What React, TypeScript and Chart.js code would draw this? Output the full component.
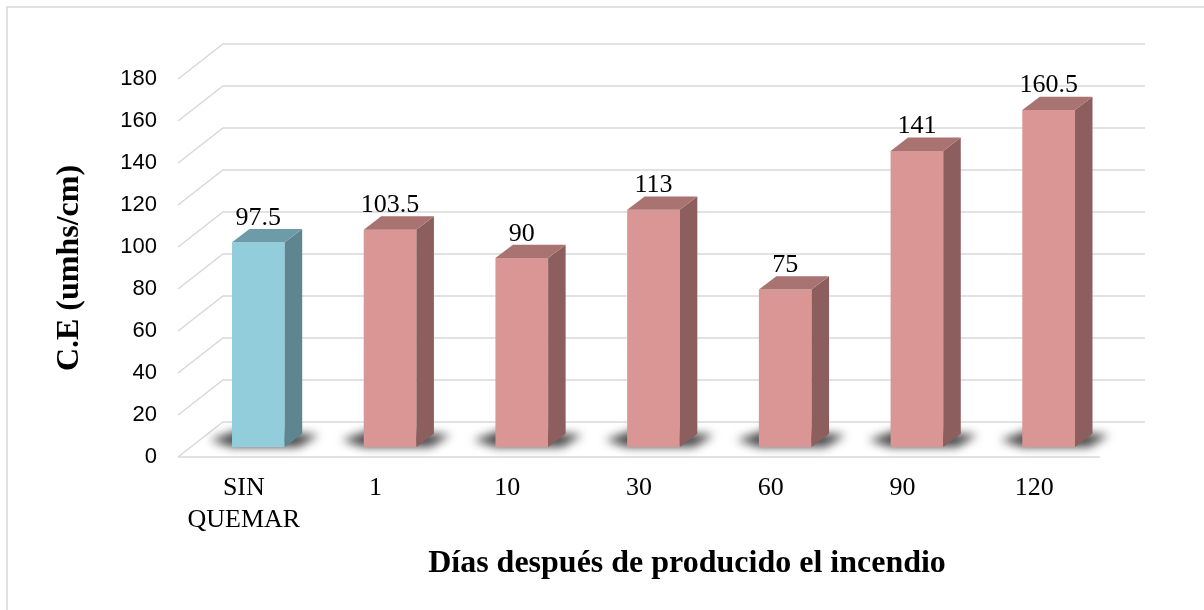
import { useEffect, useRef } from 'react';
import { Chart, registerables } from 'chart.js';

Chart.register(...registerables);

// ---- data ----
const categories: (string | string[])[] = [['SIN', 'QUEMAR'], '1', '10', '30', '60', '90', '120'];
const ceValues = [97.5, 103.5, 90, 113, 75, 141, 160.5];
const yMin = 0;
const yMax = 180;
const yStep = 20;
const yTitle = 'C.E (umhs/cm)';
const xTitle = 'Días después de producido el incendio';

// ---- 3D geometry / styling ----
const WALL_DX = 45;
const WALL_DY = -35;
const BAR_SHIFT_X = 14.5;
const BAR_SHIFT_Y = -10;
const BAR_DEPTH_X = 17.5;
const BAR_DEPTH_Y = -13.3;
const GRID = '#d9d9d9';

const BLUE = { front: '#92cddc', side: '#5e8690', top: '#6e9ba8' };
const RED = { front: '#d99694', side: '#8c5e5d', top: '#a87371' };
const palette = (i: number) => (i === 0 ? BLUE : RED);

const threeD = {
  id: 'threeD',
  beforeDraw(chart: any) {
    const { ctx, chartArea } = chart;
    const y = chart.scales.y;
    ctx.save();
    ctx.fillStyle = '#ffffff';
    ctx.fillRect(0, 0, chart.width, chart.height);
    ctx.strokeStyle = GRID;
    ctx.lineWidth = 1.5;
    ctx.strokeRect(7, 7, chart.width + 50, chart.height + 50);
    for (const t of y.ticks) {
      const py = y.getPixelForValue(t.value);
      ctx.beginPath();
      ctx.moveTo(chartArea.left, py);
      ctx.lineTo(chartArea.left + WALL_DX, py + WALL_DY);
      ctx.lineTo(chartArea.right + WALL_DX, py + WALL_DY);
      ctx.stroke();
    }
    const p0 = y.getPixelForValue(yMin);
    ctx.beginPath();
    ctx.moveTo(chartArea.left, p0);
    ctx.lineTo(chartArea.right, p0);
    ctx.stroke();
    ctx.restore();
  },
  beforeDatasetsDraw(chart: any) {
    const { ctx } = chart;
    const meta = chart.getDatasetMeta(0);
    ctx.save();
    ctx.translate(BAR_SHIFT_X, BAR_SHIFT_Y);
    // floor shadows
    ctx.save();
    ctx.filter = 'blur(5px)';
    ctx.fillStyle = 'rgba(0,0,0,0.72)';
    meta.data.forEach((bar: any) => {
      const { x, base, width } = bar.getProps(['x', 'base', 'width'], true);
      const L = x - width / 2;
      const R = x + width / 2;
      ctx.beginPath();
      ctx.moveTo(L - 22, base - 7);
      ctx.lineTo(L, base);
      ctx.lineTo(R + 14, base);
      ctx.lineTo(R + 34, base - 12);
      ctx.lineTo(L + 10, base - 18);
      ctx.closePath();
      ctx.fill();
    });
    ctx.restore();
  },
  afterDatasetsDraw(chart: any) {
    const { ctx } = chart;
    const meta = chart.getDatasetMeta(0);
    meta.data.forEach((bar: any, i: number) => {
      const { x, y, base, width } = bar.getProps(['x', 'y', 'base', 'width'], true);
      const L = x - width / 2;
      const R = x + width / 2;
      const c = palette(i);
      // side face
      ctx.fillStyle = c.side;
      ctx.beginPath();
      ctx.moveTo(R, y);
      ctx.lineTo(R + BAR_DEPTH_X, y + BAR_DEPTH_Y);
      ctx.lineTo(R + BAR_DEPTH_X, base + BAR_DEPTH_Y);
      ctx.lineTo(R, base);
      ctx.closePath();
      ctx.fill();
      // top face
      ctx.fillStyle = c.top;
      ctx.beginPath();
      ctx.moveTo(L, y);
      ctx.lineTo(R, y);
      ctx.lineTo(R + BAR_DEPTH_X, y + BAR_DEPTH_Y);
      ctx.lineTo(L + BAR_DEPTH_X, y + BAR_DEPTH_Y);
      ctx.closePath();
      ctx.fill();
      // value label
      ctx.fillStyle = '#000';
      ctx.font = '26px "Liberation Serif", "Times New Roman", serif';
      ctx.textAlign = 'center';
      ctx.textBaseline = 'alphabetic';
      ctx.fillText(String(ceValues[i]), x, y - 17.5);
    });
    ctx.restore();
  },
  afterDraw(chart: any) {
    const { ctx, chartArea } = chart;
    ctx.save();
    ctx.fillStyle = '#000';
    ctx.font = 'bold 32px "Liberation Serif", "Times New Roman", serif';
    ctx.textAlign = 'center';
    ctx.textBaseline = 'alphabetic';
    ctx.fillText(xTitle, (chartArea.left + chartArea.right) / 2 + 48, 572);
    ctx.restore();
  },
};

export default function App() {
  const ref = useRef<HTMLCanvasElement | null>(null);
  useEffect(() => {
    if (!ref.current) return;
    const chart = new Chart(ref.current, {
      type: 'bar',
      data: {
        labels: categories as any,
        datasets: [
          {
            data: ceValues,
            backgroundColor: ceValues.map((_, i) => palette(i).front),
            borderWidth: 0,
            barPercentage: 0.4,
            categoryPercentage: 1,
          },
        ],
      },
      options: {
        responsive: false,
        animation: false,
        devicePixelRatio: 1,
        layout: { padding: { left: 8, right: 104, top: 79, bottom: 0 } },
        plugins: {
          legend: { display: false },
          tooltip: { enabled: false },
        },
        scales: {
          x: {
            type: 'category',
            offset: true,
            grid: { display: false, drawTicks: false },
            border: { display: false },
            ticks: {
              color: '#000',
              font: { family: '"Liberation Serif", "Times New Roman", serif', size: 26 },
              padding: 16,
              maxRotation: 0,
              autoSkip: false,
            },
            afterFit: (s: any) => {
              s.height = 153;
            },
          },
          y: {
            min: yMin,
            max: yMax,
            grid: { display: false, drawTicks: false },
            border: { display: false },
            ticks: {
              stepSize: yStep,
              color: '#000',
              font: { family: '"Liberation Sans", Arial, sans-serif', size: 22 },
              padding: 21,
            },
            title: {
              display: true,
              text: yTitle,
              color: '#000',
              font: { family: '"Liberation Serif", "Times New Roman", serif', size: 32, weight: 'bold' },
              padding: { top: 43, bottom: 0 },
            },
            afterFit: (s: any) => {
              s.width = 170;
            },
          },
        },
      },
      plugins: [threeD],
    });
    return () => chart.destroy();
  }, []);
  return (
    <div style={{ position: 'absolute', left: 0, top: 0, width: 1204, height: 610 }}>
      <canvas ref={ref} width={1204} height={610} style={{ display: 'block' }} />
    </div>
  );
}
